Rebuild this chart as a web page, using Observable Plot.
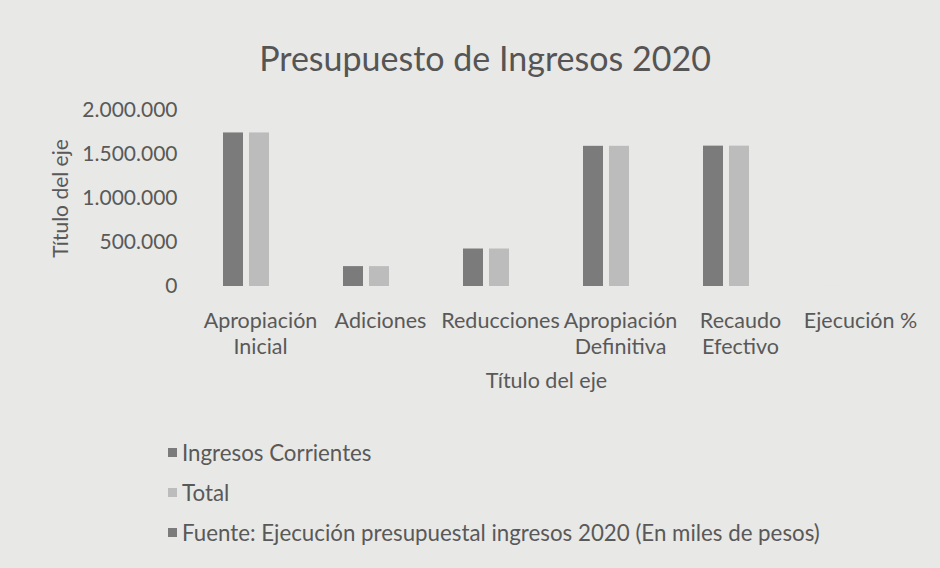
<!DOCTYPE html>
<html>
<head>
<meta charset="utf-8">
<script src="https://cdn.jsdelivr.net/npm/d3@7"></script>
<script src="https://cdn.jsdelivr.net/npm/@observablehq/plot@0.6"></script>
<style>
  html, body { margin: 0; padding: 0; background: #e8e8e6; }
  #chart { position: relative; width: 940px; height: 568px; background: #e8e8e6; font-family: Lato, "Open Sans", sans-serif; color: #595959; overflow: hidden; }
  #title { position: absolute; top: 38px; left: 0; width: 970px; text-align: center; font-size: 34px; line-height: 40px; color: #555; }
  #plot { position: absolute; top: 80px; left: 0; }
  #legend { position: absolute; top: 432px; left: 168px; }
  .item { height: 40px; display: flex; align-items: center; font-size: 22.3px; }
  .sw { width: 9px; height: 9px; margin-right: 5px; }
</style>
</head>
<body>
<div id="chart">
  <div id="title"></div>
  <div id="plot"></div>
  <div id="legend"></div>
</div>
<script>
const titleText = "Presupuesto de Ingresos 2020";
const categories = ["Apropiación Inicial", "Adiciones", "Reducciones", "Apropiación Definitiva", "Recaudo Efectivo", "Ejecución %"];
const tickLabels = ["Apropiación\nInicial", "Adiciones", "Reducciones", "Apropiación\nDefinitiva", "Recaudo\nEfectivo", "Ejecución %"];
const series = ["Ingresos Corrientes", "Total"];
const ingresosCorrientes = [1745000, 226000, 426000, 1593000, 1595000, 100];
const total = [1745000, 226000, 426000, 1593000, 1595000, 100];
const yTicks = [0, 500000, 1000000, 1500000, 2000000];
const legendItems = ["Ingresos Corrientes", "Total", "Fuente: Ejecución presupuestal ingresos 2020 (En miles de pesos)"];
const legendColors = ["#7b7b7b", "#bcbcbc", "#7b7b7b"];
const axisTitle = "Título del eje";

const data = [];
categories.forEach((c, i) => {
  data.push({category: c, series: series[0], value: ingresosCorrientes[i]});
  data.push({category: c, series: series[1], value: total[i]});
});

const locale = d3.formatLocale({decimal: ",", thousands: ".", grouping: [3], currency: ["$", ""]});
const fmt = locale.format(",.0f");

document.getElementById("title").textContent = titleText;

const chart = Plot.plot({
  width: 940,
  height: 330,
  marginLeft: 185,
  marginRight: 33,
  marginTop: 30,
  marginBottom: 124,
  style: {background: "transparent", fontFamily: "Lato, 'Open Sans', sans-serif", fontSize: "21px", color: "#595959"},
  fx: {domain: categories, padding: 0},
  x: {domain: series, paddingInner: 0.245, paddingOuter: 1.387, axis: null},
  y: {domain: [0, 2000000]},
  color: {domain: series, range: legendColors.slice(0, 2)},
  marks: [
    Plot.barY(data, {fx: "category", x: "series", y: "value", fill: "series"}),
    Plot.axisFx({anchor: "bottom", tickSize: 0, tickPadding: 22, lineHeight: 1.25, dx: 14, tickFormat: d => tickLabels[categories.indexOf(d)],
      label: axisTitle, labelAnchor: "center", labelArrow: "none", labelOffset: 101, fontSize: 21.5}),
    Plot.axisY({ticks: yTicks, tickFormat: fmt, tickSize: 0, tickPadding: 9,
      label: axisTitle, labelAnchor: "center", labelArrow: "none", labelOffset: 133, fontSize: 21})
  ]
});
document.getElementById("plot").appendChild(chart);

const legend = document.getElementById("legend");
legendItems.forEach((name, i) => {
  const row = document.createElement("div");
  row.className = "item";
  const sw = document.createElement("span");
  sw.className = "sw";
  sw.style.background = legendColors[i];
  const t = document.createElement("span");
  t.textContent = name;
  row.appendChild(sw);
  row.appendChild(t);
  legend.appendChild(row);
});
</script>
</body>
</html>
